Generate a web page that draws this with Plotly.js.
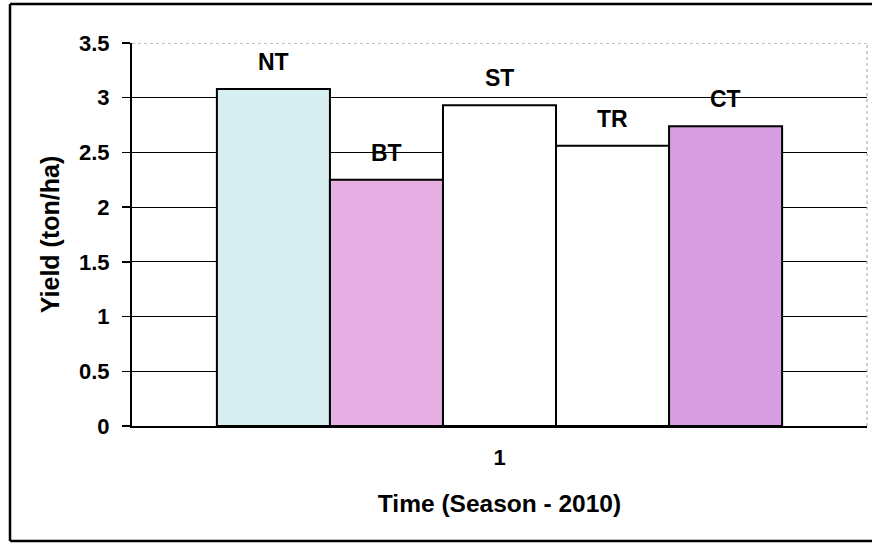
<!DOCTYPE html>
<html>
<head>
<meta charset="utf-8">
<script src="https://cdn.plot.ly/plotly-3.0.1.min.js"></script>
<style>
html,body{margin:0;padding:0;background:#fff;}
#chart{width:872px;height:544px;}
</style>
</head>
<body>
<div id="chart"></div>
<script>
// ---- data ----
const categories = ['1'];
const seriesNames = ['NT', 'BT', 'ST', 'TR', 'CT'];
const seriesValues = [[3.08], [2.25], [2.93], [2.56], [2.74]];
const seriesColors = ['#d8eff2', '#e6b0e4', '#ffffff', '#ffffff', '#d69ee0'];
const yTickVals = [0, 0.5, 1, 1.5, 2, 2.5, 3, 3.5];
const yTickText = ['0', '0.5', '1', '1.5', '2', '2.5', '3', '3.5'];

// ---- layout geometry ----
const W = 872, H = 544;
const M = {l: 132, r: 5, t: 43, b: 118};
const pw = W - M.l - M.r, ph = H - M.t - M.b;
const px = x => (x - M.l) / pw;
const py = y => (H - M.b - y) / ph;
const bargap = 0.231;
const FONT = 'Liberation Sans, Arial, sans-serif';

const traces = seriesNames.map((n, i) => ({
  type: 'bar',
  name: n,
  x: categories,
  y: seriesValues[i],
  marker: {color: seriesColors[i], line: {color: '#000', width: 2}},
  hoverinfo: 'name+y'
}));

const nS = seriesNames.length;
const bw = (1 - bargap) / nS;
const annotations = seriesNames.map((n, i) => ({
  x: -(1 - bargap) / 2 + bw * (i + 0.5),
  y: seriesValues[i][0],
  xref: 'x', yref: 'y',
  text: '<b>' + n + '</b>',
  showarrow: false,
  yanchor: 'middle',
  yshift: 27,
  font: {family: FONT, size: 23, color: '#000'}
}));

const shapes = [
  // faint top gridline
  {type: 'line', xref: 'paper', yref: 'y', x0: 0, x1: 1, y0: 3.5, y1: 3.5,
   line: {color: '#ffffff', width: 3}, layer: 'above'},
  {type: 'line', xref: 'paper', yref: 'y', x0: 0, x1: 1, y0: 3.5, y1: 3.5,
   line: {color: '#b0b0b0', width: 1.5, dash: 'dot'}, layer: 'above'},
  // faint right edge
  {type: 'line', xref: 'paper', yref: 'paper', x0: 1, x1: 1, y0: 0, y1: 1,
   line: {color: '#a0a0a0', width: 1, dash: 'dot'}, layer: 'above'},
  // outer frame (left, top, bottom; right side runs off the picture)
  {type: 'line', xref: 'paper', yref: 'paper', x0: px(10), x1: px(10), y0: py(541), y1: py(4),
   line: {color: '#000', width: 2.5}, layer: 'above'},
  {type: 'line', xref: 'paper', yref: 'paper', x0: px(10), x1: px(872), y0: py(4), y1: py(4),
   line: {color: '#000', width: 2.5}, layer: 'above'},
  {type: 'line', xref: 'paper', yref: 'paper', x0: px(10), x1: px(872), y0: py(541), y1: py(541),
   line: {color: '#000', width: 2.5}, layer: 'above'}
];

const layout = {
  width: W, height: H,
  margin: M,
  paper_bgcolor: '#fff', plot_bgcolor: '#fff',
  barmode: 'group',
  bargap: bargap,
  bargroupgap: 0,
  showlegend: false,
  font: {family: FONT, color: '#000'},
  xaxis: {
    type: 'category',
    showline: true, linecolor: '#000', linewidth: 2,
    ticks: '', showgrid: false,
    tickfont: {family: FONT, size: 22, color: '#000', weight: 'bold'},
    ticklabelstandoff: 11,
    title: {text: '<b>Time (Season - 2010)</b>', font: {family: FONT, size: 24.5, color: '#000'}, standoff: 25}
  },
  yaxis: {
    range: [0, 3.5],
    tickvals: yTickVals, ticktext: yTickText,
    ticks: 'outside', ticklen: 8, tickwidth: 1.5, tickcolor: '#000',
    showline: true, linecolor: '#000', linewidth: 2,
    showgrid: true, gridcolor: '#000', gridwidth: 1.2,
    zeroline: false,
    tickfont: {family: FONT, size: 22, color: '#000', weight: 'bold'},
    ticklabelstandoff: 8,
    title: {text: '<b>Yield (ton/ha)</b>', font: {family: FONT, size: 25, color: '#000'}, standoff: 12}
  },
  annotations: annotations,
  shapes: shapes
};

Plotly.newPlot('chart', traces, layout, {displayModeBar: false, staticPlot: true});
</script>
</body>
</html>
